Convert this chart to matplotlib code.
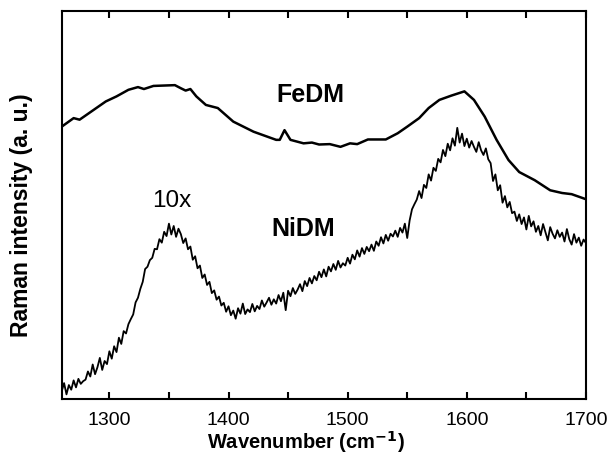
import numpy as np
import matplotlib
matplotlib.use("Agg")
from matplotlib import pyplot as plt

plt.rcParams['font.family'] = ['Liberation Sans', 'DejaVu Sans']

# FeDM spectrum (smooth), wavenumber in cm^-1
fe_x = [1260, 1270, 1275, 1297, 1306, 1316, 1324, 1329, 1337, 1355, 1360, 1364,
        1368, 1373, 1381, 1391, 1404, 1421, 1440, 1443, 1447, 1452, 1463, 1470,
        1476, 1485, 1494, 1502, 1508, 1517, 1532, 1542, 1550, 1560, 1568, 1577,
        1587, 1595, 1598, 1606, 1615, 1625, 1635, 1644, 1657, 1670, 1680, 1688, 1700]
fe_y = [70.2, 72.4, 72.0, 76.7, 78.0, 79.7, 80.4, 79.9, 80.7, 80.9, 80.1, 79.5,
        79.9, 78.0, 75.8, 75.0, 71.5, 68.9, 66.8, 66.8, 69.3, 66.8, 65.9, 66.1,
        65.6, 65.7, 65.0, 65.9, 65.7, 66.9, 66.9, 68.5, 70.2, 72.4, 75.0, 77.1,
        78.2, 79.0, 79.3, 77.1, 72.8, 66.8, 61.6, 58.5, 56.4, 53.8, 53.1, 52.8, 51.5]

# NiDM spectrum (x10), sampled every 2 cm^-1 from 1260 to 1700
ni_x = np.arange(1260, 1701, 2)
ni_y = [
    2.0, 4.1, 1.2, 3.6, 2.4, 4.8, 3.0, 5.2, 3.9, 4.6,
    5.0, 7.1, 5.8, 8.9, 6.4, 8.2, 10.6, 7.5, 9.8, 9.0,
    12.3, 10.4, 13.6, 12.1, 15.8, 14.2, 17.5, 16.9, 19.3, 20.6,
    21.8, 24.9, 26.1, 28.4, 30.2, 33.5, 34.1, 35.8, 36.4, 38.7,
    38.6, 41.2, 40.3, 43.1, 42.0, 45.2, 42.4, 44.6, 41.8, 43.9,
    42.5, 40.2, 41.4, 38.6, 39.3, 35.9, 36.8, 33.7, 34.4, 31.2,
    32.1, 29.4, 30.2, 27.3, 28.0, 25.6, 26.4, 24.1, 24.8, 22.5,
    23.9, 21.6, 22.8, 20.7, 23.4, 22.0, 24.6, 21.9, 23.1, 22.4,
    24.5, 22.6, 24.0, 23.2, 25.4, 23.8, 24.9, 26.1, 24.3, 25.7,
    24.6, 26.8, 25.2, 27.4, 22.9, 27.9, 26.5, 28.6, 27.1, 28.2,
    29.6, 27.8, 30.4, 29.1, 31.2, 29.8, 31.7, 30.6, 32.8, 31.4,
    33.4, 31.6, 34.1, 32.9, 34.8, 33.3, 35.6, 33.9, 35.0, 34.4,
    36.4, 34.9, 37.2, 36.0, 38.3, 36.7, 38.9, 37.4, 39.2, 38.1,
    39.8, 38.2, 40.6, 39.5, 41.7, 40.1, 42.3, 40.8, 42.6, 41.9,
    43.4, 41.8, 44.1, 42.9, 45.2, 41.5, 46.0, 48.9, 50.2, 51.4,
    53.6, 51.8, 55.2, 54.4, 57.9, 56.3, 59.6, 58.8, 61.9, 61.0,
    64.2, 62.6, 65.8, 64.1, 67.2, 65.3, 69.9, 66.1, 68.4, 65.2,
    67.1, 64.8, 66.5, 65.0, 63.7, 66.2, 64.1, 62.9, 64.6, 61.8,
    60.8, 56.2, 57.9, 53.8, 55.1, 50.6, 52.3, 49.4, 50.8, 47.9,
    48.3, 45.9, 47.6, 45.1, 46.8, 43.7, 47.2, 44.5, 45.8, 43.1,
    44.6, 42.2, 45.1, 43.0, 40.9, 44.3, 42.6, 41.4, 43.5, 41.8,
    42.9, 40.6, 43.8, 41.2, 39.8, 42.5, 40.3, 41.6, 39.5, 41.1,
    40.2,
]

fig = plt.figure(figsize=(6.11, 4.68), dpi=100)
ax = fig.add_axes([0.101, 0.1474, 0.858, 0.829])

ax.plot(fe_x, fe_y, color='black', lw=1.8)
ax.plot(ni_x, ni_y, color='black', lw=1.3)

ax.text(1469, 78.4, 'FeDM', fontsize=18, fontweight='bold', ha='center', va='center')
ax.text(1463, 43.8, 'NiDM', fontsize=18, fontweight='bold', ha='center', va='center')
ax.text(1352, 51, '10x', fontsize=17.5, ha='center', va='center')

ax.set_xlim(1260, 1700)
ax.set_ylim(0, 100)
ax.set_xticks([1300, 1400, 1500, 1600, 1700])
ax.set_xticks(np.arange(1300, 1700, 50), minor=True)
ax.set_yticks([])
ax.tick_params(axis='x', which='both', direction='in', top=True, length=5, width=1.5,
               labelsize=14, pad=9)
for sp in ax.spines.values():
    sp.set_linewidth(1.5)

ax.set_xlabel('Wavenumber (cm$^{\\mathbf{-1}}$)', fontsize=14.5, fontweight='bold')
ax.set_ylabel('Raman intensity (a. u.)', fontsize=16.5, fontweight='bold')
ax.xaxis.set_label_coords(0.466, -0.078)
ax.yaxis.set_label_coords(-0.055, 0.474)

fig.savefig('out.png', dpi=100)
